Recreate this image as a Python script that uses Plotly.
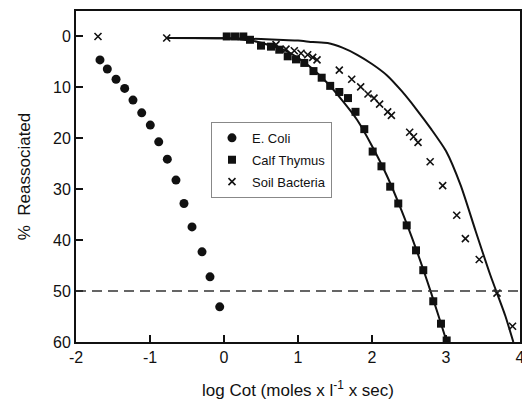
import plotly.graph_objects as go

# ---- data ----
ecoli_x = [-1.676, -1.577, -1.459, -1.342, -1.230, -1.112, -0.996, -0.882,
           -0.766, -0.649, -0.541, -0.432, -0.297, -0.189, -0.058]
ecoli_y = [4.6, 6.4, 8.4, 10.2, 12.5, 15.0, 17.4, 20.7,
           24.1, 28.2, 32.8, 37.4, 42.3, 47.2, 53.1]

calf_x = [0.037, 0.149, 0.261, 0.351, 0.500, 0.635, 0.747, 0.861, 0.973,
          1.085, 1.209, 1.320, 1.435, 1.558, 1.676, 1.777, 1.896, 2.009,
          2.128, 2.246, 2.355, 2.469, 2.595, 2.693, 2.828, 2.932, 3.009]
calf_y = [0.0, 0.0, 0.0, 0.65, 1.8, 2.0, 2.6, 3.9, 4.5,
          5.2, 6.8, 8.1, 9.7, 10.9, 12.1, 14.8, 18.2, 22.6,
          25.5, 29.5, 32.8, 37.1, 42.0, 45.9, 52.0, 56.4, 59.7]

soil_x = [-1.703, -0.774, 0.703, 0.838, 0.950, 1.041, 1.131, 1.199, 1.257,
          1.558, 1.726, 1.847, 1.946, 2.027, 2.103, 2.212, 2.262,
          2.509, 2.561, 2.622, 2.786, 2.955, 3.145, 3.262, 3.449, 3.689, 3.899]
soil_y = [0.0, 0.3, 1.6, 2.5, 2.8, 3.3, 3.6, 4.1, 4.6,
          6.6, 8.4, 9.9, 11.3, 12.1, 13.3, 14.8, 15.5,
          18.8, 19.7, 20.8, 24.6, 29.3, 35.1, 39.7, 43.8, 50.4, 56.9]

calf_fit_x = [-0.774, 0.0, 0.4, 0.8, 1.0, 1.2, 1.4, 1.6, 1.8, 2.0, 2.2,
              2.4, 2.6, 2.8, 3.0, 3.01]
calf_fit_y = [0.3, 0.35, 0.9, 2.6, 4.2, 6.4, 9.2, 12.6, 16.4, 21.5, 27.3,
              34.2, 41.9, 50.4, 59.5, 60.0]

soil_fit_x = [-0.774, 0.0, 0.5, 0.8, 1.0, 1.2, 1.4, 1.6, 1.8, 2.0, 2.2,
              2.4, 2.6, 2.8, 3.0, 3.2, 3.4, 3.6, 3.8, 3.91]
soil_fit_y = [0.3, 0.35, 0.5, 0.7, 0.8, 1.1, 1.3, 2.2, 3.6, 5.4, 7.6,
              10.7, 14.3, 18.2, 22.5, 29.3, 38.2, 46.9, 54.8, 60.0]

x_ticks = [-2, -1, 0, 1, 2, 3, 4]
x_tick_text = ["-2", "-1", "0", "1", "2", "3", "4"]
y_ticks = [0, 10, 20, 30, 40, 50, 60]
half_level = 50

INK = "#111111"
FONT = "Liberation Sans, Arial, Helvetica, sans-serif"

fig = go.Figure()

for fx, fy in ((calf_fit_x, calf_fit_y), (soil_fit_x, soil_fit_y)):
    fig.add_trace(go.Scatter(x=fx, y=fy, mode="lines",
                             line=dict(color=INK, width=2, shape="spline", smoothing=0.6),
                             showlegend=False, hoverinfo="skip"))

fig.add_trace(go.Scatter(x=ecoli_x, y=ecoli_y, mode="markers", name="E. Coli",
                         legendgroup="a",
                         marker=dict(symbol="circle", size=9, color=INK)))
fig.add_trace(go.Scatter(x=calf_x, y=calf_y, mode="markers", name="Calf Thymus",
                         legendgroup="b",
                         marker=dict(symbol="square", size=8, color=INK)))
fig.add_trace(go.Scatter(x=soil_x, y=soil_y, mode="markers", name="Soil Bacteria",
                         legendgroup="c",
                         marker=dict(symbol="x-thin-open", size=7, color=INK,
                                     line=dict(color=INK, width=1.6))))

fig.add_shape(type="line", xref="paper", x0=0, x1=1, yref="y",
              y0=half_level, y1=half_level,
              line=dict(color="#333333", width=1.5, dash="10px,6px"))

fig.update_layout(
    width=522, height=403,
    margin=dict(l=76, r=2, t=11, b=61),
    paper_bgcolor="white", plot_bgcolor="white",
    font=dict(family=FONT, color=INK, size=16),
    legend=dict(x=0.304, y=0.665, xanchor="left", yanchor="top",
                bgcolor="white", bordercolor="#888888", borderwidth=1,
                font=dict(size=13, family=FONT, color=INK),
                tracegroupgap=2),
    xaxis=dict(range=[-2, 4], tickvals=x_ticks, ticktext=x_tick_text,
               ticks="inside", ticklen=7, automargin=False,
               ticklabeloverflow="allow",
               tickwidth=2, tickcolor=INK, showline=True, linecolor=INK,
               linewidth=2, mirror=True, showgrid=False, zeroline=False,
               tickfont=dict(size=16),
               title=dict(text="log Cot (moles x l<sup>-1</sup> x sec)",
                          font=dict(size=17), standoff=19)),
    yaxis=dict(range=[60, -5], tickvals=y_ticks, ticks="inside", ticklen=7,
               automargin=False,
               tickwidth=2, tickcolor=INK, showline=True, linecolor=INK,
               linewidth=2, mirror=True, showgrid=False, zeroline=False,
               tickfont=dict(size=16),
               title=dict(text="%  Reassociated", font=dict(size=17), standoff=18)),
)

fig.write_html("out.html", config={"displayModeBar": False},
               post_script="document.body.style.margin='0';document.body.style.overflow='hidden';")
